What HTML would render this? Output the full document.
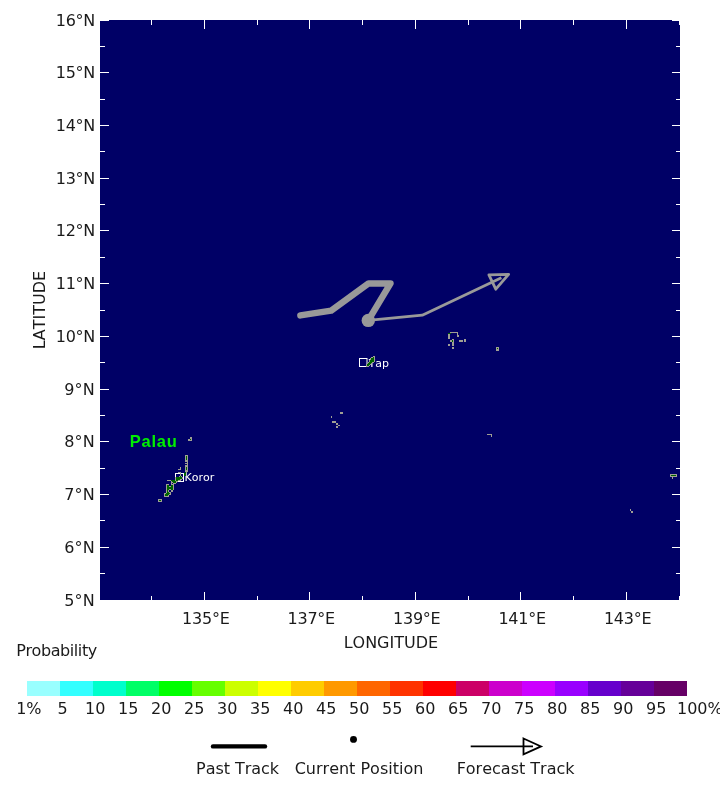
<!DOCTYPE html>
<html lang="en"><head><meta charset="utf-8"><title>Track probability map</title>
<style>html,body{margin:0;padding:0;background:#fff;}svg{display:block}text{font-family:"DejaVu Sans","Liberation Sans",sans-serif;}.ax{font-size:16px;fill:#1a1a1a;font-kerning:none}.sm{font-size:11px;fill:#fff;font-kerning:none}.pal{font-family:"Liberation Sans",sans-serif;font-weight:bold;font-size:16.5px;letter-spacing:0.75px;fill:#00ee00}</style></head><body>
<svg width="720" height="810" viewBox="0 0 720 810">
<rect x="0" y="0" width="720" height="810" fill="#fff"/>
<rect x="100" y="20" width="580" height="580" fill="#000066" shape-rendering="crispEdges"/>
<g fill="#fff" shape-rendering="crispEdges"><rect x="100" y="573" width="5" height="1"/><rect x="676" y="573" width="5" height="1"/><rect x="100" y="547" width="9" height="1"/><rect x="672" y="547" width="9" height="1"/><rect x="100" y="520" width="5" height="1"/><rect x="676" y="520" width="5" height="1"/><rect x="100" y="494" width="9" height="1"/><rect x="672" y="494" width="9" height="1"/><rect x="100" y="468" width="5" height="1"/><rect x="676" y="468" width="5" height="1"/><rect x="100" y="441" width="9" height="1"/><rect x="672" y="441" width="9" height="1"/><rect x="100" y="415" width="5" height="1"/><rect x="676" y="415" width="5" height="1"/><rect x="100" y="389" width="9" height="1"/><rect x="672" y="389" width="9" height="1"/><rect x="100" y="362" width="5" height="1"/><rect x="676" y="362" width="5" height="1"/><rect x="100" y="336" width="9" height="1"/><rect x="672" y="336" width="9" height="1"/><rect x="100" y="310" width="5" height="1"/><rect x="676" y="310" width="5" height="1"/><rect x="100" y="283" width="9" height="1"/><rect x="672" y="283" width="9" height="1"/><rect x="100" y="257" width="5" height="1"/><rect x="676" y="257" width="5" height="1"/><rect x="100" y="230" width="9" height="1"/><rect x="672" y="230" width="9" height="1"/><rect x="100" y="204" width="5" height="1"/><rect x="676" y="204" width="5" height="1"/><rect x="100" y="178" width="9" height="1"/><rect x="672" y="178" width="9" height="1"/><rect x="100" y="151" width="5" height="1"/><rect x="676" y="151" width="5" height="1"/><rect x="100" y="125" width="9" height="1"/><rect x="672" y="125" width="9" height="1"/><rect x="100" y="99" width="5" height="1"/><rect x="676" y="99" width="5" height="1"/><rect x="100" y="72" width="9" height="1"/><rect x="672" y="72" width="9" height="1"/><rect x="100" y="46" width="5" height="1"/><rect x="676" y="46" width="5" height="1"/><rect x="100" y="20" width="9" height="1"/><rect x="672" y="20" width="9" height="1"/><rect x="151" y="20" width="1" height="5"/><rect x="151" y="596" width="1" height="5"/><rect x="204" y="20" width="1" height="9"/><rect x="204" y="592" width="1" height="9"/><rect x="257" y="20" width="1" height="5"/><rect x="257" y="596" width="1" height="5"/><rect x="309" y="20" width="1" height="9"/><rect x="309" y="592" width="1" height="9"/><rect x="362" y="20" width="1" height="5"/><rect x="362" y="596" width="1" height="5"/><rect x="415" y="20" width="1" height="9"/><rect x="415" y="592" width="1" height="9"/><rect x="468" y="20" width="1" height="5"/><rect x="468" y="596" width="1" height="5"/><rect x="520" y="20" width="1" height="9"/><rect x="520" y="592" width="1" height="9"/><rect x="573" y="20" width="1" height="5"/><rect x="573" y="596" width="1" height="5"/><rect x="626" y="20" width="1" height="9"/><rect x="626" y="592" width="1" height="9"/><rect x="679" y="20" width="1" height="5"/><rect x="679" y="596" width="1" height="5"/></g>
<text class="ax" x="64.2" y="606" textLength="30.4" lengthAdjust="spacing">5°N</text>
<text class="ax" x="64.2" y="553" textLength="30.4" lengthAdjust="spacing">6°N</text>
<text class="ax" x="64.2" y="500" textLength="30.4" lengthAdjust="spacing">7°N</text>
<text class="ax" x="64.2" y="447" textLength="30.4" lengthAdjust="spacing">8°N</text>
<text class="ax" x="64.2" y="395" textLength="30.4" lengthAdjust="spacing">9°N</text>
<text class="ax" x="55.7" y="342" textLength="39.6" lengthAdjust="spacing">10°N</text>
<text class="ax" x="55.7" y="289" textLength="39.6" lengthAdjust="spacing">11°N</text>
<text class="ax" x="55.7" y="236" textLength="39.6" lengthAdjust="spacing">12°N</text>
<text class="ax" x="55.7" y="184" textLength="39.6" lengthAdjust="spacing">13°N</text>
<text class="ax" x="55.7" y="131" textLength="39.6" lengthAdjust="spacing">14°N</text>
<text class="ax" x="55.7" y="78" textLength="39.6" lengthAdjust="spacing">15°N</text>
<text class="ax" x="55.7" y="26" textLength="39.6" lengthAdjust="spacing">16°N</text>
<text class="ax" x="182.1" y="624" textLength="47.7" lengthAdjust="spacing">135°E</text>
<text class="ax" x="287.5" y="624" textLength="47.7" lengthAdjust="spacing">137°E</text>
<text class="ax" x="393.0" y="624" textLength="47.7" lengthAdjust="spacing">139°E</text>
<text class="ax" x="498.4" y="624" textLength="47.7" lengthAdjust="spacing">141°E</text>
<text class="ax" x="603.9" y="624" textLength="47.7" lengthAdjust="spacing">143°E</text>
<text class="ax" x="390.9" y="648" text-anchor="middle">LONGITUDE</text>
<text class="ax" transform="translate(45,310) rotate(-90)" text-anchor="middle">LATITUDE</text>
<polyline points="300.4,315.4 331.2,310.6 368.6,283.4 390.5,283.4 368.3,320.4" fill="none" stroke="#999999" stroke-width="6.5" stroke-linecap="round" stroke-linejoin="round"/>
<circle cx="368.3" cy="320.4" r="6.7" fill="#999999"/>
<polyline points="368.3,320.4 422.3,315.2 501.4,277.7" fill="none" stroke="#999999" stroke-width="2.8" stroke-linejoin="round"/>
<polygon points="508.6,274.3 488.9,274.8 495.8,289.2" fill="none" stroke="#999999" stroke-width="2.8" stroke-linejoin="round"/>
<rect x="359.5" y="358.5" width="7.5" height="8" fill="none" stroke="#fff" stroke-width="1"/>
<text class="sm" x="368.6" y="367">Yap</text>
<g fill="#9f9e94" shape-rendering="crispEdges"><polygon points="371.5,357.5 374.5,356.5 374.5,361.5 371.5,363.5 368.5,366.5 366.5,366.5 366.5,364.5 369.5,361.5 370.5,358.5" fill="#006400" stroke="#9f9e94" stroke-width="1"/></g>
<rect x="175.5" y="473.5" width="8" height="8" fill="none" stroke="#fff" stroke-width="1"/>
<text class="sm" x="184.6" y="481">Koror</text>
<g fill="#9f9e94" shape-rendering="crispEdges"><rect x="190" y="437" width="2" height="4"/><rect x="188" y="439" width="4" height="2"/><rect x="190" y="439" width="1" height="1" fill="#006400"/><polygon points="185.5,455.5 187.5,455.5 187.5,460.5 185.5,460.5" fill="#006400" stroke="#9f9e94" stroke-width="1"/><rect x="185" y="461" width="3" height="1"/><rect x="187" y="461" width="1" height="5"/><rect x="185" y="463" width="3" height="1"/><rect x="185" y="465" width="3" height="1"/><polygon points="185.5,466.5 187.5,466.5 187.5,471.5 185.5,471.5" fill="#006400" stroke="#9f9e94" stroke-width="1"/><rect x="180" y="467" width="1" height="3"/><rect x="178" y="469" width="3" height="1"/><rect x="186" y="470" width="1" height="1"/><rect x="186" y="471" width="1" height="1"/><rect x="178" y="472" width="3" height="1"/><rect x="185" y="472" width="1" height="1" fill="#006400"/><rect x="186" y="472" width="1" height="1"/><rect x="180" y="473" width="1" height="1"/><rect x="184" y="473" width="2" height="1" fill="#006400"/><rect x="180" y="474" width="1" height="1"/><rect x="184" y="474" width="2" height="1" fill="#006400"/><rect x="180" y="475" width="1" height="1"/><rect x="184" y="475" width="2" height="1" fill="#006400"/><rect x="179" y="476" width="1" height="1"/><rect x="180" y="476" width="1" height="1" fill="#006400"/><rect x="181" y="476" width="1" height="1"/><rect x="175" y="477" width="1" height="1"/><rect x="176" y="477" width="6" height="1" fill="#006400"/><rect x="182" y="477" width="1" height="1"/><rect x="175" y="478" width="1" height="1"/><rect x="176" y="478" width="6" height="1" fill="#006400"/><rect x="182" y="478" width="1" height="1"/><rect x="175" y="479" width="1" height="1"/><rect x="176" y="479" width="4" height="1" fill="#006400"/><rect x="180" y="479" width="2" height="1"/><rect x="167" y="480" width="4" height="1"/><rect x="171" y="480" width="4" height="1" fill="#006400"/><rect x="175" y="480" width="1" height="1"/><rect x="176" y="480" width="2" height="1" fill="#006400"/><rect x="178" y="480" width="3" height="1"/><rect x="171" y="481" width="1" height="1"/><rect x="172" y="481" width="4" height="1" fill="#006400"/><rect x="176" y="481" width="2" height="1"/><rect x="171" y="482" width="2" height="1"/><rect x="173" y="482" width="3" height="1" fill="#006400"/><rect x="176" y="482" width="1" height="1"/><rect x="171" y="483" width="1" height="1"/><rect x="173" y="483" width="3" height="1"/><rect x="166" y="484" width="3" height="1"/><rect x="171" y="484" width="3" height="1"/><rect x="166" y="485" width="1" height="1"/><rect x="167" y="485" width="2" height="1" fill="#006400"/><rect x="171" y="485" width="2" height="1" fill="#006400"/><rect x="173" y="485" width="1" height="1"/><rect x="166" y="486" width="1" height="1"/><rect x="167" y="486" width="2" height="1" fill="#006400"/><rect x="169" y="486" width="2" height="1"/><rect x="171" y="486" width="2" height="1" fill="#006400"/><rect x="173" y="486" width="1" height="1"/><rect x="166" y="487" width="1" height="1"/><rect x="167" y="487" width="6" height="1" fill="#006400"/><rect x="173" y="487" width="1" height="1"/><rect x="166" y="488" width="1" height="1"/><rect x="167" y="488" width="6" height="1" fill="#006400"/><rect x="173" y="488" width="1" height="1"/><rect x="166" y="489" width="1" height="1"/><rect x="167" y="489" width="2" height="1" fill="#006400"/><rect x="169" y="489" width="2" height="1"/><rect x="171" y="489" width="2" height="1" fill="#006400"/><rect x="173" y="489" width="1" height="1"/><rect x="166" y="490" width="1" height="1"/><rect x="167" y="490" width="1" height="1" fill="#006400"/><rect x="168" y="490" width="1" height="1"/><rect x="171" y="490" width="2" height="1"/><rect x="166" y="491" width="1" height="1"/><rect x="167" y="491" width="1" height="1" fill="#006400"/><rect x="168" y="491" width="1" height="1"/><rect x="171" y="491" width="2" height="1"/><rect x="166" y="492" width="1" height="1"/><rect x="167" y="492" width="2" height="1" fill="#006400"/><rect x="169" y="492" width="2" height="1"/><rect x="164" y="493" width="2" height="1"/><rect x="166" y="493" width="4" height="1" fill="#006400"/><rect x="170" y="493" width="1" height="1"/><rect x="164" y="494" width="1" height="1"/><rect x="165" y="494" width="4" height="1" fill="#006400"/><rect x="169" y="494" width="2" height="1"/><rect x="164" y="495" width="1" height="1"/><rect x="165" y="495" width="3" height="1" fill="#006400"/><rect x="168" y="495" width="1" height="1"/><rect x="164" y="496" width="5" height="1"/><polygon points="158.5,499.5 161.5,499.5 161.5,501.5 158.5,501.5" fill="#006400" stroke="#9f9e94" stroke-width="1"/><rect x="450" y="332" width="8" height="1"/><rect x="457" y="332" width="1" height="4"/><rect x="457" y="335" width="2" height="2"/><rect x="448" y="333" width="2" height="6"/><rect x="448" y="333" width="3" height="1" fill="#006400"/><rect x="450" y="340" width="2" height="2"/><rect x="452" y="339" width="2" height="7"/><rect x="452" y="340" width="1" height="2" fill="#006400"/><rect x="448" y="344" width="2" height="2"/><rect x="452" y="347" width="2" height="2"/><rect x="459" y="340" width="4" height="2"/><rect x="464" y="339" width="2" height="3"/><rect x="496" y="347" width="3" height="4"/><rect x="497" y="348" width="1" height="1" fill="#006400"/><rect x="340" y="412" width="3" height="2"/><rect x="331" y="416" width="1" height="2"/><rect x="332" y="421" width="4" height="2"/><rect x="336" y="423" width="2" height="2"/><rect x="338" y="425" width="2" height="1"/><rect x="336" y="426" width="2" height="2"/><rect x="487" y="434" width="5" height="1"/><rect x="491" y="434" width="1" height="3"/><polygon points="670.5,474.5 676.5,474.5 676.5,476.5 670.5,476.5" fill="#006400" stroke="#9f9e94" stroke-width="1"/><rect x="672" y="477" width="1" height="2"/><rect x="630" y="509" width="1" height="2"/><rect x="631" y="511" width="2" height="2"/></g>
<text class="pal" x="129.8" y="446.7">Palau</text>
<text class="ax" x="16.2" y="656" textLength="81" lengthAdjust="spacing">Probability</text>
<g shape-rendering="crispEdges"><rect x="27" y="681" width="33" height="15" fill="#99ffff"/><rect x="60" y="681" width="33" height="15" fill="#33ffff"/><rect x="93" y="681" width="33" height="15" fill="#00ffcc"/><rect x="126" y="681" width="33" height="15" fill="#00ff66"/><rect x="159" y="681" width="33" height="15" fill="#00ff00"/><rect x="192" y="681" width="33" height="15" fill="#66ff00"/><rect x="225" y="681" width="33" height="15" fill="#ccff00"/><rect x="258" y="681" width="33" height="15" fill="#ffff00"/><rect x="291" y="681" width="33" height="15" fill="#ffcc00"/><rect x="324" y="681" width="33" height="15" fill="#ff9900"/><rect x="357" y="681" width="33" height="15" fill="#ff6600"/><rect x="390" y="681" width="33" height="15" fill="#ff3300"/><rect x="423" y="681" width="33" height="15" fill="#ff0000"/><rect x="456" y="681" width="33" height="15" fill="#cc0066"/><rect x="489" y="681" width="33" height="15" fill="#cc00cc"/><rect x="522" y="681" width="33" height="15" fill="#cc00ff"/><rect x="555" y="681" width="33" height="15" fill="#9900ff"/><rect x="588" y="681" width="33" height="15" fill="#6600cc"/><rect x="621" y="681" width="33" height="15" fill="#660099"/><rect x="654" y="681" width="33" height="15" fill="#660066"/></g>
<text class="ax" x="16.2" y="714">1%</text>
<text class="ax" x="57.4" y="714">5</text>
<text class="ax" x="85.0" y="714">10</text>
<text class="ax" x="118.0" y="714">15</text>
<text class="ax" x="151.0" y="714">20</text>
<text class="ax" x="184.0" y="714">25</text>
<text class="ax" x="217.0" y="714">30</text>
<text class="ax" x="250.0" y="714">35</text>
<text class="ax" x="283.0" y="714">40</text>
<text class="ax" x="316.0" y="714">45</text>
<text class="ax" x="349.0" y="714">50</text>
<text class="ax" x="382.0" y="714">55</text>
<text class="ax" x="415.0" y="714">60</text>
<text class="ax" x="448.0" y="714">65</text>
<text class="ax" x="481.0" y="714">70</text>
<text class="ax" x="514.0" y="714">75</text>
<text class="ax" x="547.0" y="714">80</text>
<text class="ax" x="580.0" y="714">85</text>
<text class="ax" x="613.0" y="714">90</text>
<text class="ax" x="646.0" y="714">95</text>
<text class="ax" x="677.0" y="714">100%</text>
<line x1="213" y1="746.4" x2="265" y2="746.4" stroke="#000" stroke-width="4.4" stroke-linecap="round"/>
<text class="ax" x="196.1" y="774" textLength="83" lengthAdjust="spacing">Past Track</text>
<circle cx="353.5" cy="739.4" r="3.45" fill="#000"/>
<text class="ax" x="359" y="774" text-anchor="middle">Current Position</text>
<line x1="470.7" y1="746.4" x2="533" y2="746.4" stroke="#000" stroke-width="1.8"/>
<polygon points="523.5,738.5 541,746.4 523.5,754.3" fill="none" stroke="#000" stroke-width="1.8"/>
<text class="ax" x="515.6" y="774" text-anchor="middle">Forecast Track</text>
</svg></body></html>
